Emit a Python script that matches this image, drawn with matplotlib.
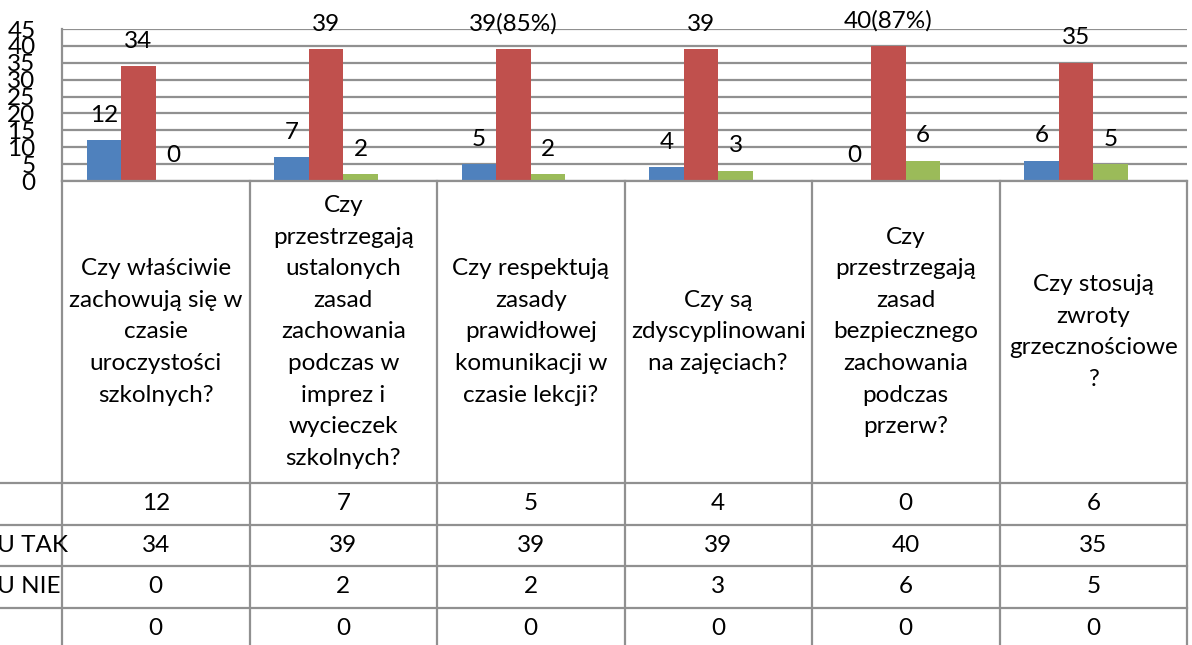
import matplotlib.pyplot as plt

plt.rcParams['font.family'] = ['Lato', 'DejaVu Sans']

# --- data -----------------------------------------------------------------
questions = [
    "Czy właściwie\nzachowują się w\nczasie\nuroczystości\nszkolnych?",
    "Czy\nprzestrzegają\nustalonych\nzasad\nzachowania\npodczas w\nimprez i\nwycieczek\nszkolnych?",
    "Czy respektują\nzasady\nprawidłowej\nkomunikacji w\nczasie lekcji?",
    "Czy są\nzdyscyplinowani\nna zajęciach?",
    "Czy\nprzestrzegają\nzasad\nbezpiecznego\nzachowania\npodczas\nprzerw?",
    "Czy stosują\nzwroty\ngrzecznościowe\n?",
]
row_names = ["", "U TAK", "U NIE", ""]
s_blue = [12, 7, 5, 4, 0, 6]
s_red = [34, 39, 39, 39, 40, 35]
s_green = [0, 2, 2, 3, 6, 5]
s_fourth = [0, 0, 0, 0, 0, 0]
red_pct = [None, None, 85, None, 87, None]

series = [s_blue, s_red, s_green, s_fourth]
colors = ['#4F81BD', '#C0504D', '#9BBB59', '#8064A2']
labelled = [True, True, True, False]

W, H = 1192, 645
grid_c = '#909090'
fs = 17.5

fig = plt.figure(figsize=(W / 100, H / 100), dpi=100)

# --- bar chart -------------------------------------------------------------
ax = fig.add_axes([62 / W, 1 - 181 / H, 1125 / W, 152 / H])
ax.set_xlim(-0.5, 5.5)
ax.set_ylim(0, 45)
ax.set_yticks(range(0, 46, 5))
ax.set_xticks([])
ax.yaxis.grid(True, color=grid_c, lw=1.6)
ax.set_axisbelow(True)
ax.tick_params(axis='y', length=0, pad=19, labelsize=fs)
for sp in ['top', 'right']:
    ax.spines[sp].set_visible(False)
for sp in ['left', 'bottom']:
    ax.spines[sp].set_color(grid_c)
    ax.spines[sp].set_linewidth(1.6)

bw = 0.184
cats = range(len(questions))
for k, (vals, col) in enumerate(zip(series, colors)):
    xs = [i + (k - 1.5) * bw for i in cats]
    ax.bar(xs, vals, width=bw, color=col, zorder=2)
    if not labelled[k]:
        continue
    for i, (x, v) in enumerate(zip(xs, vals)):
        txt = str(v)
        if k == 1 and red_pct[i] is not None:
            txt = f"{v}({red_pct[i]}%)"
        ax.annotate(txt, (x, v), xytext=(0, 18), textcoords='offset points',
                    ha='center', va='center', fontsize=fs, annotation_clip=False)

# --- data table ------------------------------------------------------------
tab = fig.add_axes([62 / W, 0, 1125 / W, (H - 181) / H])
tab.set_xlim(-0.5, 5.5)
tab.set_ylim(H - 181, 0)
tab.axis('off')

left_x = -0.5 - 65 / 187.5
head_h = 302
row_h = 41.5
for k in range(len(questions) + 1):
    tab.plot([k - 0.5, k - 0.5], [0, H - 181], color=grid_c, lw=1.6,
             clip_on=False)
for r in range(len(row_names)):
    y = head_h + r * row_h
    tab.plot([left_x, 5.5], [y, y], color=grid_c, lw=1.6, clip_on=False)

for i, q in enumerate(questions):
    tab.text(i, head_h / 2, q, ha='center', va='center', fontsize=fs,
             linespacing=1.62)

for r, (name, vals) in enumerate(zip(row_names, series)):
    yc = head_h + (r + 0.5) * row_h
    tab.text(-0.5 - 65 / 187.5, yc, name, ha='left', va='center', fontsize=fs,
             clip_on=False)
    for i, v in enumerate(vals):
        tab.text(i, yc, str(v), ha='center', va='center', fontsize=fs)

fig.savefig('out.png', dpi=100)
